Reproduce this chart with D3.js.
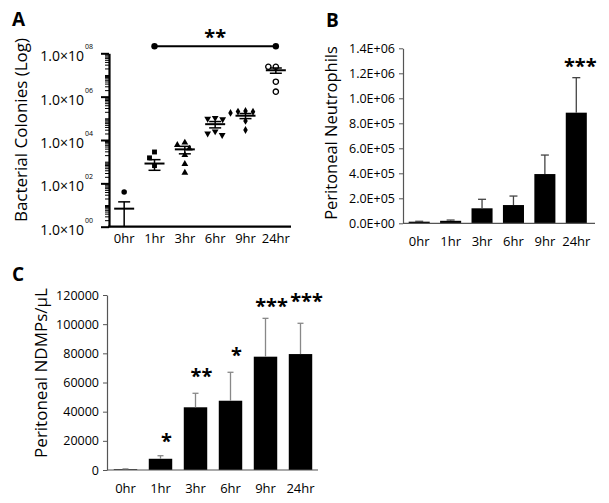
<!DOCTYPE html>
<html><head><meta charset="utf-8">
<script src="https://cdn.jsdelivr.net/npm/d3@7"></script>
<style>body{margin:0;background:#fff} svg{display:block} text{font-family:"Open Sans",sans-serif;fill:#000}</style>
</head><body><svg id="c" width="609" height="503"></svg>
<script>
// ---------- DATA ----------
const categories = ["0hr", "1hr", "3hr", "6hr", "9hr", "24hr"];

// Panel A: bacterial colonies (individual animals), mean and SEM
const colonyPoints = [
  [40],
  [2800, 1500, 660],
  [7600, 5900, 4000, 2000, 780, 310],
  [105000, 95000, 90000, 25000, 20000, 17000],
  [219000, 204000, 178000, 200000, 76000, 29000],
  [24000000, 24000000, 4900000, 1700000]
];
const colonyMean = [6.8, 820, 3700, 53700, 132000, 16500000];
const colonySem = [7.2, 420, 1400, 17500, 35000, 4500000];
const colonyTicks = [1e0, 1e2, 1e4, 1e6, 1e8];
const colonyTickExp = ["00", "02", "04", "06", "08"];
const colonySig = { from: "1hr", to: "24hr", level: 2.1e8, label: "**", labelLevel: 8.7e8 };

// Panel B: peritoneal neutrophils
const neutroMean = [13000, 20000, 120000, 146000, 394000, 885000];
const neutroErr = [3000, 6000, 72000, 72000, 152000, 280000];
const neutroTicks = [0, 2e5, 4e5, 6e5, 8e5, 1.0e6, 1.2e6, 1.4e6];
const neutroStars = [{ cat: "24hr", label: "***", value: 1.29e6 }];

// Panel C: peritoneal NDMPs/uL
const ndmpMean = [500, 7700, 43000, 47500, 77700, 79500];
const ndmpErr = [250, 2100, 9600, 19500, 26300, 21100];
const ndmpTicks = [0, 20000, 40000, 60000, 80000, 100000, 120000];
const ndmpStars = [
  { cat: "1hr", label: "*", value: 22300 },
  { cat: "3hr", label: "**", value: 66900 },
  { cat: "6hr", label: "*", value: 81600 },
  { cat: "9hr", label: "***", value: 114900 },
  { cat: "24hr", label: "***", value: 118300 }
];

// ---------- DRAW ----------
const svg = d3.select("#c");

function panelLabel(t, x, y) {
  svg.append("text").attr("x", x).attr("y", y).attr("font-size", 19)
    .attr("font-weight", "bold").text(t);
}
function starText(g, x, cy, label, fs) {
  g.append("text").attr("x", x).attr("y", cy + 0.55 * fs).attr("text-anchor", "middle")
    .attr("font-size", fs).attr("font-weight", "bold").text(label);
}

// ===== Panel A =====
panelLabel("A", 12, 26);
const gA = svg.append("g");
const ax = d3.scaleBand().domain(categories).range([109, 291]);
const ay = d3.scaleLog().domain([1, 1e8]).range([226.7, 53.3]);

// minor ticks
const minorVals = [];
for (let n = 0; n < 8; n++) for (let k = 1; k <= 9; k++) {
  const v = k * Math.pow(10, n);
  if (!(k === 1 && n % 2 === 0)) minorVals.push(v);
}
gA.append("g").attr("transform", "translate(109,0)")
  .call(d3.axisLeft(ay).tickValues(minorVals).tickSize(4).tickSizeOuter(0).tickFormat(""))
  .call(g => g.selectAll("line").attr("stroke", "#000").attr("stroke-width", 1))
  .call(g => g.select(".domain").attr("stroke", "#000").attr("stroke-width", 2.2));
gA.append("g").attr("transform", "translate(109,0)")
  .call(d3.axisLeft(ay).tickValues(colonyTicks).tickSize(8).tickSizeOuter(0).tickFormat(""))
  .call(g => g.selectAll("line").attr("stroke", "#000").attr("stroke-width", 2))
  .call(g => g.select(".domain").remove());
colonyTicks.forEach((v, i) => {
  const y = ay(v);
  gA.append("text").attr("x", 84).attr("y", y + 8).attr("text-anchor", "end")
    .attr("font-size", 14).text("1.0×10");
  gA.append("text").attr("x", 85).attr("y", y - 4).attr("font-size", 7).attr("fill", "#000").text(colonyTickExp[i]);
});
// x axis
gA.append("g").attr("transform", "translate(0,226.7)")
  .call(d3.axisBottom(ax).tickSize(0).tickPadding(7).tickSizeOuter(0))
  .call(g => g.select(".domain").attr("stroke", "#000").attr("stroke-width", 2.2)
    .attr("d", "M108,0H291"))
  .call(g => g.selectAll("text").attr("font-size", 13).attr("font-family", "Open Sans").attr("fill", "#000"));
// y title
gA.append("text").attr("transform", "translate(27,130) rotate(-90)").attr("text-anchor", "middle")
  .attr("font-size", 17).text("Bacterial Colonies (Log)");

// points
const symbolTypes = [d3.symbolCircle, d3.symbolSquare, d3.symbolTriangle, d3.symbolTriangle, d3.symbolDiamond, d3.symbolCircle];
const symbolSizes = [24, 24, 20, 20, 18, 22];
function swarm(vals, yScale, D) {
  const order = vals.map((v, i) => i).sort((a, b) => vals[b] - vals[a]);
  const placed = [];
  const out = new Array(vals.length);
  order.forEach(i => {
    const py = yScale(vals[i]);
    let dxF = 0;
    outer: for (let s = 0; s < 40; s += 0.5) {
      for (const dx of (s === 0 ? [0] : [-s, s])) {
        if (placed.every(p => (p.x - dx) ** 2 + (p.y - py) ** 2 >= D * D)) { dxF = dx; break outer; }
      }
    }
    placed.push({ x: dxF, y: py });
    out[i] = { dx: dxF, y: py };
  });
  return out;
}
categories.forEach((c, gi) => {
  const cx = ax(c) + ax.bandwidth() / 2;
  const pos = swarm(colonyPoints[gi], ay, 7.5);
  pos.forEach(p => {
    const path = gA.append("path")
      .attr("d", d3.symbol().type(symbolTypes[gi]).size(symbolSizes[gi])())
      .attr("transform", `translate(${cx + p.dx},${p.y})` + (gi === 3 ? " rotate(180)" : ""));
    if (gi === 5) path.attr("fill", "#fff").attr("stroke", "#000").attr("stroke-width", 1.3);
    else path.attr("fill", "#000");
  });
  // mean and SEM
  const m = colonyMean[gi], s = colonySem[gi];
  const yTop = ay(m + s), yBot = ay(Math.max(m - s, 1)), yM = ay(m);
  gA.append("line").attr("x1", cx - 10).attr("x2", cx + 10).attr("y1", yM).attr("y2", yM)
    .attr("stroke", "#000").attr("stroke-width", 2);
  gA.append("line").attr("x1", cx).attr("x2", cx).attr("y1", yTop).attr("y2", yBot)
    .attr("stroke", "#000").attr("stroke-width", 1.5);
  [yTop, yBot].forEach((y, j) => {
    if (j === 1 && m - s <= 1) return;
    gA.append("line").attr("x1", cx - 6).attr("x2", cx + 6).attr("y1", y).attr("y2", y)
      .attr("stroke", "#000").attr("stroke-width", 1.5);
  });
});
// significance bracket
{
  const x1 = ax(colonySig.from) + ax.bandwidth() / 2, x2 = ax(colonySig.to) + ax.bandwidth() / 2;
  const y = ay(colonySig.level);
  gA.append("line").attr("x1", x1).attr("x2", x2).attr("y1", y).attr("y2", y)
    .attr("stroke", "#000").attr("stroke-width", 2);
  [x1, x2].forEach(x => gA.append("circle").attr("cx", x).attr("cy", y).attr("r", 3.2).attr("fill", "#000"));
  starText(gA, (x1 + x2) / 2, ay(colonySig.labelLevel), colonySig.label, 20);
}

// ===== Bar panel helper =====
function barPanel(opt) {
  const g = svg.append("g");
  const x = d3.scaleBand().domain(categories).range(opt.xRange).paddingInner(0.33).paddingOuter(0.165);
  const y = d3.scaleLinear().domain(opt.yDomain).range(opt.yRange);
  g.append("g").attr("transform", `translate(${opt.axisX},0)`)
    .call(d3.axisLeft(y).tickValues(opt.ticks).tickSize(4).tickPadding(4).tickSizeOuter(0).tickFormat(opt.fmt))
    .call(gg => gg.selectAll("line").attr("stroke", "#555"))
    .call(gg => gg.select(".domain").attr("stroke", "#555").attr("stroke-width", 1.2))
    .call(gg => gg.selectAll("text").attr("font-size", opt.tickFs).attr("font-family", "Open Sans").attr("fill", "#000"));
  g.selectAll("rect.bar").data(opt.mean).join("rect").attr("class", "bar")
    .attr("x", (d, i) => x(categories[i])).attr("width", x.bandwidth())
    .attr("y", d => y(d)).attr("height", d => y(0) - y(d)).attr("fill", "#000");
  opt.mean.forEach((m, i) => {
    const cx = x(categories[i]) + x.bandwidth() / 2;
    const yt = y(m + opt.err[i]);
    g.append("line").attr("x1", cx).attr("x2", cx).attr("y1", y(m)).attr("y2", yt)
      .attr("stroke", opt.errColor).attr("stroke-width", 1.3);
    g.append("line").attr("x1", cx - opt.cap).attr("x2", cx + opt.cap).attr("y1", yt).attr("y2", yt)
      .attr("stroke", opt.errColor).attr("stroke-width", 1.3);
  });
  g.append("g").attr("transform", `translate(0,${y(0)})`)
    .call(d3.axisBottom(x).tickSize(0).tickPadding(opt.xPad).tickSizeOuter(0))
    .call(gg => gg.select(".domain").attr("stroke", "#555").attr("stroke-width", 1.2)
      .attr("d", `M${opt.axisX},0H${opt.xEnd}`))
    .call(gg => gg.selectAll("text").attr("font-size", 13).attr("font-family", "Open Sans").attr("fill", "#000"));
  g.append("text").attr("transform", `translate(${opt.titleX},${opt.titleY}) rotate(-90)`)
    .attr("text-anchor", "middle").attr("font-size", opt.titleFs).text(opt.title);
  opt.stars.forEach(s => starText(g, x(s.cat) + x.bandwidth() / 2 + opt.starDx, y(s.value), s.label, 20));
}

function fmtE(v) {
  const [mant, ex] = v.toExponential(1).split("e");
  const sign = ex[0] === "-" ? "-" : "+";
  const digits = ex.replace(/[+-]/, "").padStart(2, "0");
  return mant + "E" + sign + digits;
}

// ===== Panel B =====
panelLabel("B", 326, 27);
barPanel({
  xRange: [403.5, 592], axisX: 403, xEnd: 595,
  yDomain: [0, 1.4e6], yRange: [223.3, 48.3], ticks: neutroTicks, fmt: fmtE, tickFs: 12.5,
  mean: neutroMean, err: neutroErr, errColor: "#444", cap: 4,
  xPad: 13, title: "Peritoneal Neutrophils", titleX: 337, titleY: 133, titleFs: 16.5,
  stars: neutroStars, starDx: 4
});

// ===== Panel C =====
panelLabel("C", 12, 281);
barPanel({
  xRange: [108, 318], axisX: 107, xEnd: 318,
  yDomain: [0, 120000], yRange: [470, 295], ticks: ndmpTicks, fmt: d3.format("d"), tickFs: 12.5,
  mean: ndmpMean, err: ndmpErr, errColor: "#888", cap: 3,
  xPad: 14, title: "Peritoneal NDMPs/µL", titleX: 47, titleY: 373, titleFs: 17,
  stars: ndmpStars, starDx: 6
});
</script></body></html>
